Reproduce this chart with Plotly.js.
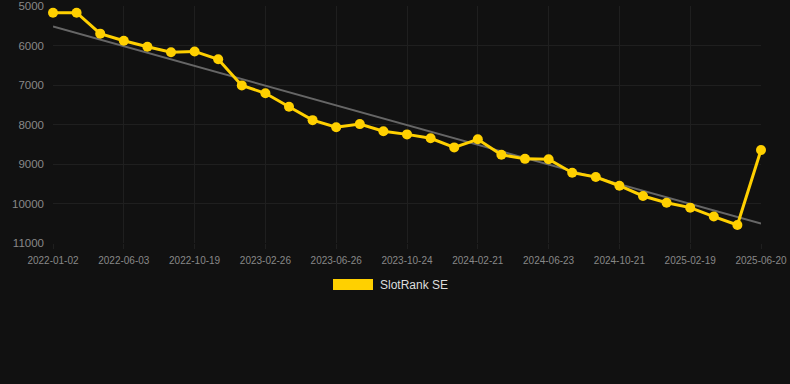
<!DOCTYPE html>
<html>
<head>
<meta charset="utf-8">
<script src="https://cdn.plot.ly/plotly-3.0.1.min.js"></script>
<style>html,body{margin:0;padding:0;background:#111111;}#chart{width:790px;height:384px;}</style>
</head>
<body>
<div id="chart"></div>
<script>
const dates = ["2022-01-02","2022-02-22","2022-04-13","2022-06-03","2022-07-19","2022-09-03","2022-10-19","2022-12-01","2023-01-13","2023-02-26","2023-04-06","2023-05-16","2023-06-26","2023-08-05","2023-09-14","2023-10-24","2023-12-03","2024-01-12","2024-02-21","2024-04-01","2024-05-13","2024-06-23","2024-08-02","2024-09-11","2024-10-21","2024-11-30","2025-01-09","2025-02-19","2025-03-31","2025-05-10","2025-06-20"];
const ranks = [5170,5170,5700,5880,6030,6170,6150,6350,7010,7210,7550,7890,8070,7990,8170,8250,8350,8580,8375,8765,8870,8880,9220,9330,9550,9810,9980,10105,10330,10545,8645];
const trendDates = [dates[0], dates[dates.length-1]];
const trendValues = [5520, 10510];
const tickLabels = dates.filter((d,i)=>i%3===0);
const yTicks = [5000,6000,7000,8000,9000,10000,11000];
const seriesName = "SlotRank SE";

const traces = [
  {x: trendDates, y: trendValues, type:"scatter", mode:"lines", line:{color:"#666666", width:2}, showlegend:false, hoverinfo:"skip", cliponaxis:false},
  {x: dates, y: ranks, type:"scatter", mode:"lines+markers", name: seriesName, line:{color:"#FFD000", width:3}, marker:{color:"#FFD000", size:10}, showlegend:false, cliponaxis:false}
];
const layout = {
  width:790, height:384,
  paper_bgcolor:"#111111", plot_bgcolor:"#111111",
  margin:{l:53, r:29, t:6, b:141},
  showlegend:false,
  font:{family:"Liberation Sans, Arial, sans-serif", color:"#888888"},
  xaxis:{type:"category", categoryorder:"array", categoryarray:dates, range:[0, dates.length-1],
    tickmode:"array", tickvals:tickLabels, ticktext:tickLabels,
    tickfont:{size:10, color:"#888888"}, showgrid:true, gridcolor:"#1f1f1f", gridwidth:1,
    zeroline:false, showline:false, ticks:"outside", ticklen:5, tickcolor:"#1f1f1f", tickangle:0, ticklabelstandoff:3},
  yaxis:{range:[11000,5000], tickmode:"array", tickvals:yTicks, ticktext:yTicks.map(String),
    tickfont:{size:11.5, color:"#888888"}, showgrid:true, gridcolor:"#1f1f1f", gridwidth:1,
    zeroline:false, showline:false, ticks:"", ticklabelstandoff:8},
  shapes:[{type:"rect", xref:"paper", yref:"paper", x0:(333-53)/708, x1:(373-53)/708, y0:(243-290)/237, y1:(243-279)/237, fillcolor:"#FFD000", line:{width:0}}],
  annotations:[{xref:"paper", yref:"paper", x:(378-53)/708, y:(243-284.5)/237, xanchor:"left", yanchor:"middle", text:seriesName, showarrow:false, font:{size:12, color:"#dddddd"}}]
};
Plotly.newPlot("chart", traces, layout, {displayModeBar:false, staticPlot:true});
</script>
</body>
</html>
